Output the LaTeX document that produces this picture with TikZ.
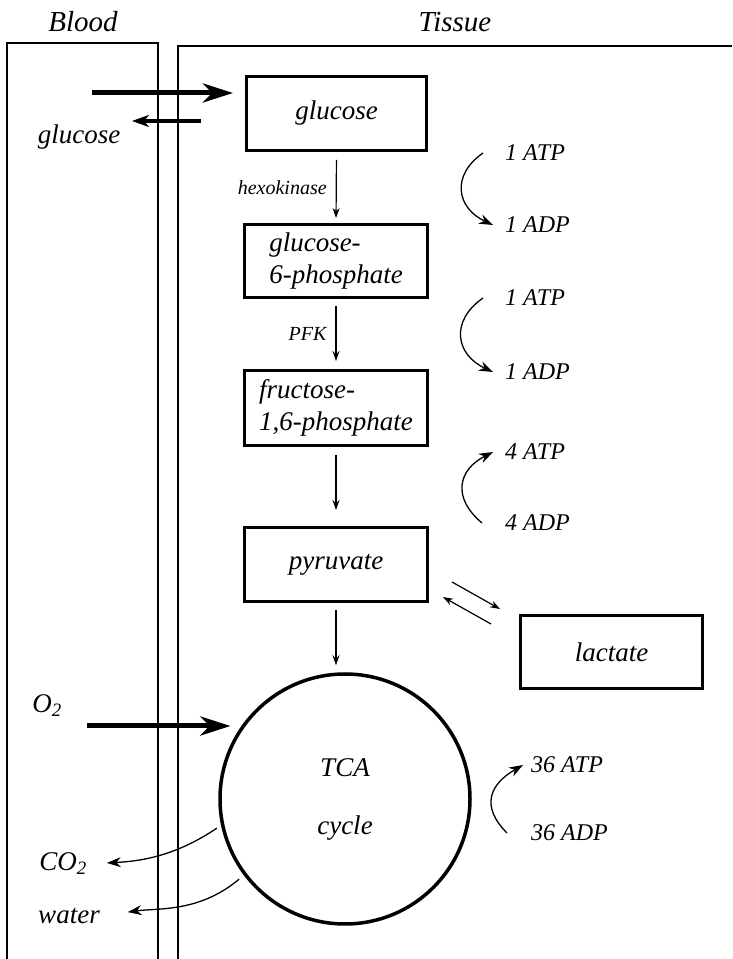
\documentclass[tikz,border=0pt]{standalone}
\usepackage{fontspec}
\setmainfont{Liberation Serif}
\usepackage{tikz}
\usetikzlibrary{arrows.meta, positioning}
\newcommand{\headfont}{\fontsize{29}{33}\selectfont\itshape}
\newcommand{\pathfont}{\fontsize{27}{32}\selectfont\itshape}
\newcommand{\atpfont}{\fontsize{24}{28}\selectfont\itshape}
\newcommand{\enzfont}{\fontsize{20}{24}\selectfont\itshape}

\begin{document}
\begin{tikzpicture}[x=1pt, y=1pt,
  wall/.style={line width=1.4pt},
  stage/.style={draw, line width=3pt, minimum width=180pt, minimum height=74pt, inner sep=0pt, font=\pathfont},
  pool/.style={circle, draw, line width=3.5pt, minimum size=250pt, align=center, font=\pathfont},
  label/.style={inner sep=0pt, font=\pathfont},
  atp/.style={anchor=west, inner sep=0pt, font=\atpfont},
  enzyme/.style={left, inner sep=9pt, font=\enzfont},
  flow/.style={-{Stealth[length=10pt, width=7pt]}, line width=1.2pt},
  cofactor/.style={-{Stealth[length=14pt, width=10pt]}, line width=1.3pt},
  transport/.style={-{Stealth[length=30pt, width=19pt, inset=9pt]}, line width=5pt},
  backflow/.style={-{Stealth[length=17pt, width=12pt, inset=5pt]}, line width=4pt}]

  \useasboundingbox (0, 0) rectangle (732, 959);

  % Compartments
  \node[font=\headfont] (blood) at (83, 937) {Blood};
  \node[font=\headfont] (tissue) at (455, 937) {Tissue};
  \draw[wall] (7, 0) -- (7, 916) -- (158, 916) -- (158, 0);
  \draw[wall] (178, 0) -- (178, 913) -- (732, 913);

  % Glycolysis
  \node[stage] (glu) at (336.5, 845.5) {glucose};
  \node[stage, minimum width=183pt, minimum height=73pt, align=left] (g6p) at (336, 698) {glucose-\\6-phosphate};
  \node[stage, minimum width=183pt, minimum height=75pt, align=left] (fru) at (336, 551) {fructose-\\1,6-phosphate};
  \node[stage, minimum width=183pt] (pyr) at (336, 394.5) {pyruvate};
  \node[stage, minimum width=182pt, minimum height=73pt] (lac) at (611.5, 307) {lactate};
  \node[pool] (tca) at (345, 160) {TCA\\[26pt]cycle};

  \draw[flow, shorten <=8pt, shorten >=5pt] (glu.south) -- node[enzyme] (hexo) {hexokinase} (g6p.north);
  \draw[flow, shorten <=7pt, shorten >=8pt] (g6p.south) -- node[enzyme] (pfk) {PFK} (fru.north);
  \draw[flow, shorten <=8pt, shorten >=16pt] (fru.south) -- (pyr.north);
  \draw[flow, shorten <=7pt, shorten >=7pt] (pyr.south) -- (pyr.south |- tca.north);

  % Pyruvate <-> lactate
  \coordinate (eqa) at (452, 377);
  \coordinate (eqb) at (500, 350);
  \coordinate (eqc) at (491, 335);
  \coordinate (eqd) at (443, 362);
  \draw[flow] (eqa) -- (eqb);
  \draw[flow] (eqc) -- (eqd);

  % Exchange with the blood
  \node[label] (bglu) at (79, 822) {glucose};
  \coordinate (gluin) at (92, 866);
  \draw[transport, shorten >=12pt] (gluin) -- (gluin -| glu.west);
  \coordinate (gluout) at (201, 838);
  \coordinate (gluback) at (132, 838);
  \draw[backflow] (gluout) -- (gluback);

  \node[label] (o2) at (47, 253) {O\textsubscript{2}};
  \coordinate (o2in) at (87, 233);
  \draw[transport, shorten >=12pt] (o2in) -- (o2in -| tca.144);

  \node[label] (co2) at (63, 95) {CO\textsubscript{2}};
  \node[label] (water) at (69, 43) {water};
  \draw[cofactor, shorten <=5pt, shorten >=20pt] (tca.192) to[out=214, in=3] (co2.east);
  \draw[cofactor, shorten <=6pt, shorten >=28pt] (tca.217) to[out=220, in=8] (water.east);

  % ATP balance
  \node[atp] (atp1) at (505, 806) {1 ATP};
  \node[atp] (adp1) at (505, 734) {1 ADP};
  \draw[cofactor] ([xshift=-22pt]atp1.west) to[out=215, in=155, looseness=1.4] ([xshift=-12pt]adp1.west);

  \node[atp] (atp2) at (505, 661) {1 ATP};
  \node[atp] (adp2) at (505, 587) {1 ADP};
  \draw[cofactor] ([xshift=-22pt]atp2.west) to[out=215, in=155, looseness=1.4] ([xshift=-12pt]adp2.west);

  \node[atp] (atp3) at (505, 507) {4 ATP};
  \node[atp] (adp3) at (505, 436) {4 ADP};
  \draw[cofactor] ([xshift=-23pt]adp3.west) to[out=140, in=207, looseness=1.4] ([xshift=-12pt]atp3.west);

  \node[atp] (atp4) at (531, 194) {36 ATP};
  \node[atp] (adp4) at (531, 126) {36 ADP};
  \draw[cofactor] ([xshift=-24pt]adp4.west) to[out=135, in=210, looseness=1.4] ([xshift=-8pt]atp4.west);
\end{tikzpicture}
\end{document}
